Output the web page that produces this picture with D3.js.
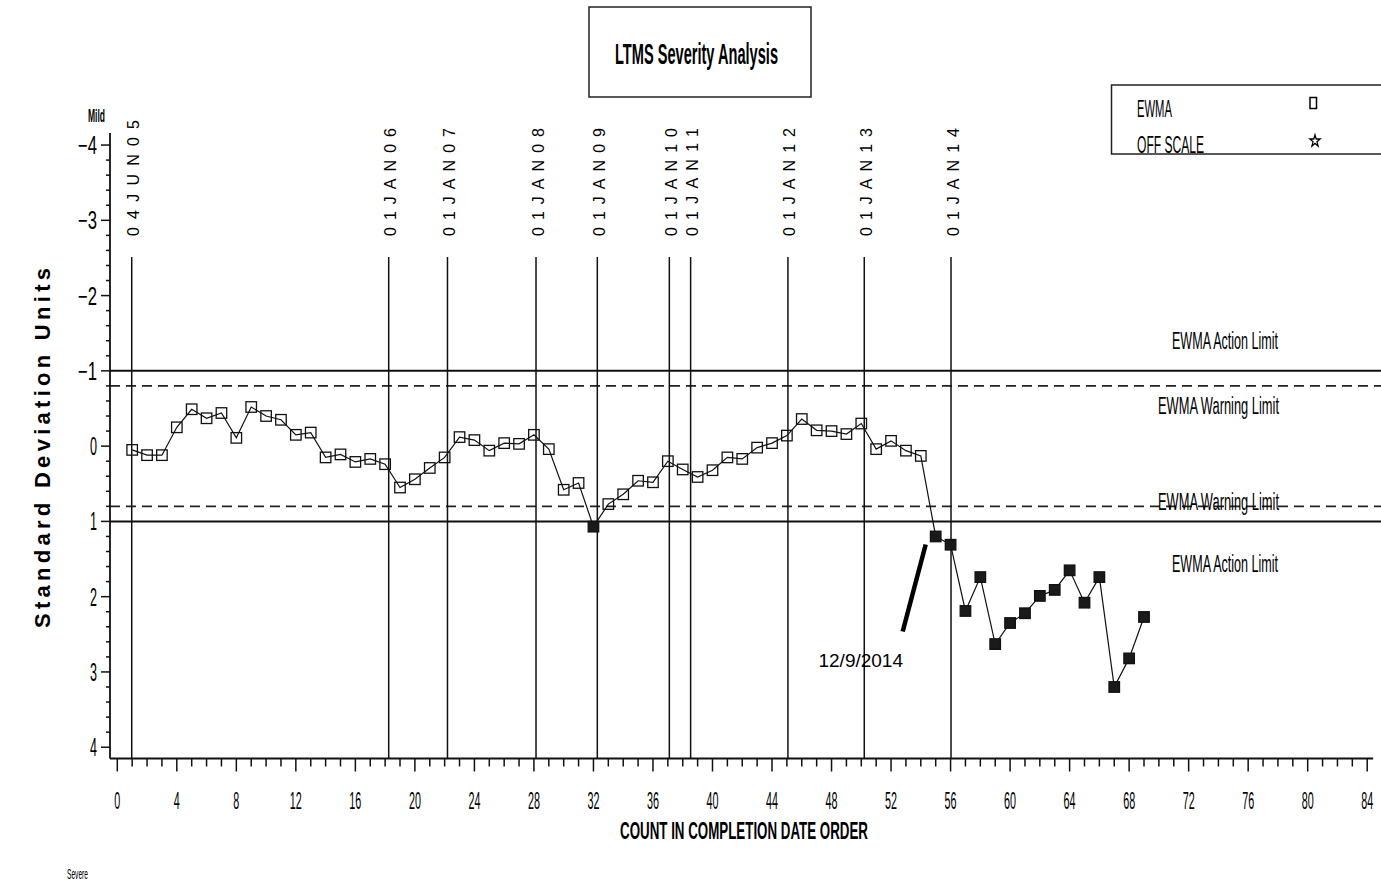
<!DOCTYPE html>
<html>
<head>
<meta charset="utf-8">
<script src="https://cdn.jsdelivr.net/npm/d3@7"></script>
<style>
  html, body { margin: 0; padding: 0; background: #fff; }
  svg { display: block; }
  text { font-family: "Liberation Sans", Arial, sans-serif; fill: #000; }
</style>
</head>
<body>
<svg id="chart" width="1381" height="886"></svg>
<script>
// EWMA severity values, in completion order (test 1..69)
const counts = d3.range(1, 70);
const ewma = [0.05, 0.12, 0.12, -0.25, -0.49, -0.37, -0.44, -0.11, -0.52, -0.40,
              -0.35, -0.15, -0.18, 0.15, 0.11, 0.21, 0.17, 0.24, 0.55, 0.44,
              0.29, 0.15, -0.12, -0.08, 0.06, -0.04, -0.03, -0.15, 0.04, 0.58,
              0.49, 1.07, 0.77, 0.64, 0.46, 0.48, 0.20, 0.31, 0.41, 0.32,
              0.15, 0.17, 0.02, -0.04, -0.14, -0.36, -0.21, -0.20, -0.16, -0.30,
              0.04, -0.07, 0.06, 0.13, 1.20, 1.31, 2.19, 1.74, 2.63, 2.35,
              2.22, 1.99, 1.91, 1.65, 2.08, 1.74, 3.20, 2.82, 2.27];

// Calendar markers (position on the count axis)
const dateLabels = ["04JUN05", "01JAN06", "01JAN07", "01JAN08", "01JAN09",
                    "01JAN10", "01JAN11", "01JAN12", "01JAN13", "01JAN14"];
const datePositions = [0.97, 18.24, 22.19, 28.14, 32.26, 37.1, 38.53, 45.07, 50.2, 56.03];

// Control limits
const actionLimit = 1.0;
const warningLimit = 0.8;

// Axis ticks
const xMajorTicks = d3.range(0, 85, 4);
const xMinorTicks = d3.range(0, 85, 1);
const yMajorTicks = d3.range(-4, 5, 1);
const yMinorTicks = d3.range(-20, 21, 1).map(d => d / 5);

// Annotated test
const noteCount = 55;
const noteText = "12/9/2014";

const svg = d3.select("#chart");

const x = d3.scaleLinear().domain([-0.49, 84.4]).range([110, 110 + 84.89 * 14.88]);
const y = d3.scaleLinear().domain([-4.16, 4.15]).range([133, 758.5]);
const x0 = x.range()[0], yBottom = y.range()[1];

// condensed text helper: fixes the drawn width of a label
function label(g, txt, px, py, opts) {
  const o = Object.assign({size: 24, width: null, anchor: "start", weight: "normal"}, opts);
  const t = g.append("text")
    .attr("x", px).attr("y", py)
    .attr("font-size", o.size)
    .attr("font-weight", o.weight)
    .attr("text-anchor", o.anchor)
    .text(txt);
  if (o.width) t.attr("textLength", o.width).attr("lengthAdjust", "spacingAndGlyphs");
  return t;
}

// ---- title box ----
svg.append("rect").attr("x", 589).attr("y", 7).attr("width", 222).attr("height", 90)
  .attr("fill", "none").attr("stroke", "#222").attr("stroke-width", 1.5);
label(svg, "LTMS Severity Analysis", 615, 64, {size: 29, width: 163, weight: "bold"});

// ---- legend box ----
svg.append("rect").attr("x", 1111.5).attr("y", 85).attr("width", 300).attr("height", 69)
  .attr("fill", "none").attr("stroke", "#222").attr("stroke-width", 1.5);
label(svg, "EWMA", 1137, 117, {size: 23, width: 35});
label(svg, "OFF SCALE", 1137, 153, {size: 23, width: 67});
svg.append("rect").attr("x", 1310).attr("y", 97.5).attr("width", 6.5).attr("height", 11)
  .attr("fill", "none").attr("stroke", "#000").attr("stroke-width", 1.5);
svg.append("path").attr("d", d3.symbol(d3.symbolStar, 45)())
  .attr("transform", "translate(1315,141) scale(0.85,1)")
  .attr("fill", "#fff").attr("stroke", "#000").attr("stroke-width", 1.4);

// ---- limit lines ----
[-actionLimit, actionLimit].forEach(v => {
  svg.append("line").attr("x1", x0).attr("x2", 1381).attr("y1", y(v)).attr("y2", y(v))
    .attr("stroke", "#111").attr("stroke-width", 2);
});
[-warningLimit, warningLimit].forEach(v => {
  svg.append("line").attr("x1", x0).attr("x2", 1381).attr("y1", y(v)).attr("y2", y(v))
    .attr("stroke", "#222").attr("stroke-width", 1.8).attr("stroke-dasharray", "10,6");
});
label(svg, "EWMA Action Limit", 1278, 349, {size: 23, width: 106, anchor: "end"});
label(svg, "EWMA Warning Limit", 1279, 414, {size: 23, width: 121, anchor: "end"});
label(svg, "EWMA Warning Limit", 1279, 510, {size: 23, width: 121, anchor: "end"});
label(svg, "EWMA Action Limit", 1278, 572, {size: 23, width: 106, anchor: "end"});

// ---- calendar reference lines ----
svg.append("g").selectAll("line").data(datePositions).join("line")
  .attr("x1", d => x(d)).attr("x2", d => x(d))
  .attr("y1", 257).attr("y2", yBottom)
  .attr("stroke", "#111").attr("stroke-width", 1.5);
svg.append("g").selectAll("text").data(dateLabels).join("text")
  .attr("transform", (d, i) => `translate(${x(datePositions[i]) + 7.5},236) rotate(-90)`)
  .attr("font-family", "'DejaVu Sans', sans-serif")
  .attr("font-size", 16)
  .attr("textLength", d => d === "04JUN05" ? 116 : 108)
  .attr("lengthAdjust", "spacing")
  .text(d => d);

// ---- axes ----
const yAxis = svg.append("g").attr("transform", `translate(${x0},0)`);
yAxis.append("line").attr("x1", 0).attr("x2", 0).attr("y1", y.range()[0]).attr("y2", yBottom)
  .attr("stroke", "#111").attr("stroke-width", 1.8);
yAxis.selectAll("line.minor").data(yMinorTicks).join("line").attr("class", "minor")
  .attr("x1", d => Number.isInteger(d) ? -9 : -4).attr("x2", 0)
  .attr("y1", d => y(d)).attr("y2", d => y(d))
  .attr("stroke", "#111").attr("stroke-width", 1.5);
yMajorTicks.forEach(v => {
  const txt = v < 0 ? "\u2212" + Math.abs(v) : String(v);
  label(yAxis, txt, -13, y(v) + 9, {size: 25, width: v < 0 ? 19 : 7, anchor: "end"});
});
label(svg, "Mild", 88, 122, {size: 19, width: 17, weight: "bold"});

const xAxis = svg.append("g").attr("transform", `translate(0,${yBottom})`);
xAxis.append("line").attr("x1", x0).attr("x2", x.range()[1]).attr("y1", 0).attr("y2", 0)
  .attr("stroke", "#111").attr("stroke-width", 1.8);
xAxis.selectAll("line.tick").data(xMinorTicks).join("line").attr("class", "tick")
  .attr("x1", d => x(d)).attr("x2", d => x(d))
  .attr("y1", 0).attr("y2", d => d % 4 === 0 ? 13 : 8)
  .attr("stroke", "#111").attr("stroke-width", 1.5);
xMajorTicks.forEach(v => {
  const s = String(v);
  label(xAxis, s, x(v), 50, {size: 23, width: s.length * 6, anchor: "middle"});
});

label(svg, "COUNT IN COMPLETION DATE ORDER", 744, 839, {size: 24, width: 248, weight: "bold", anchor: "middle"});
label(svg, "Severe", 67, 879, {size: 15, width: 21});

svg.append("text")
  .attr("transform", "translate(50,448) rotate(-90)")
  .attr("text-anchor", "middle")
  .attr("font-size", 22).attr("font-weight", "bold")
  .attr("textLength", 360).attr("lengthAdjust", "spacing")
  .text("Standard Deviation Units");

// ---- EWMA series ----
const pts = counts.map((c, i) => ({c, v: ewma[i]}));
svg.append("path").datum(pts)
  .attr("d", d3.line().x(d => x(d.c)).y(d => y(d.v)))
  .attr("fill", "none").attr("stroke", "#111").attr("stroke-width", 1.2);
const ms = 10.5;
svg.append("g").selectAll("rect").data(pts).join("rect")
  .attr("x", d => x(d.c) - ms / 2).attr("y", d => y(d.v) - ms / 2)
  .attr("width", ms).attr("height", ms)
  .attr("fill", d => Math.abs(d.v) > actionLimit ? "#1a1a1a" : "none")
  .attr("stroke", "#111").attr("stroke-width", 1.3);

// ---- annotation ----
const np = pts[noteCount - 1];
svg.append("line")
  .attr("x1", x(np.c) - 10).attr("y1", y(np.v) + 8)
  .attr("x2", x(np.c) - 33).attr("y2", y(np.v) + 95)
  .attr("stroke", "#000").attr("stroke-width", 4.5);
svg.append("text").attr("x", 903).attr("y", 667).attr("text-anchor", "end")
  .attr("font-size", 19).text(noteText);
</script>
</body>
</html>
